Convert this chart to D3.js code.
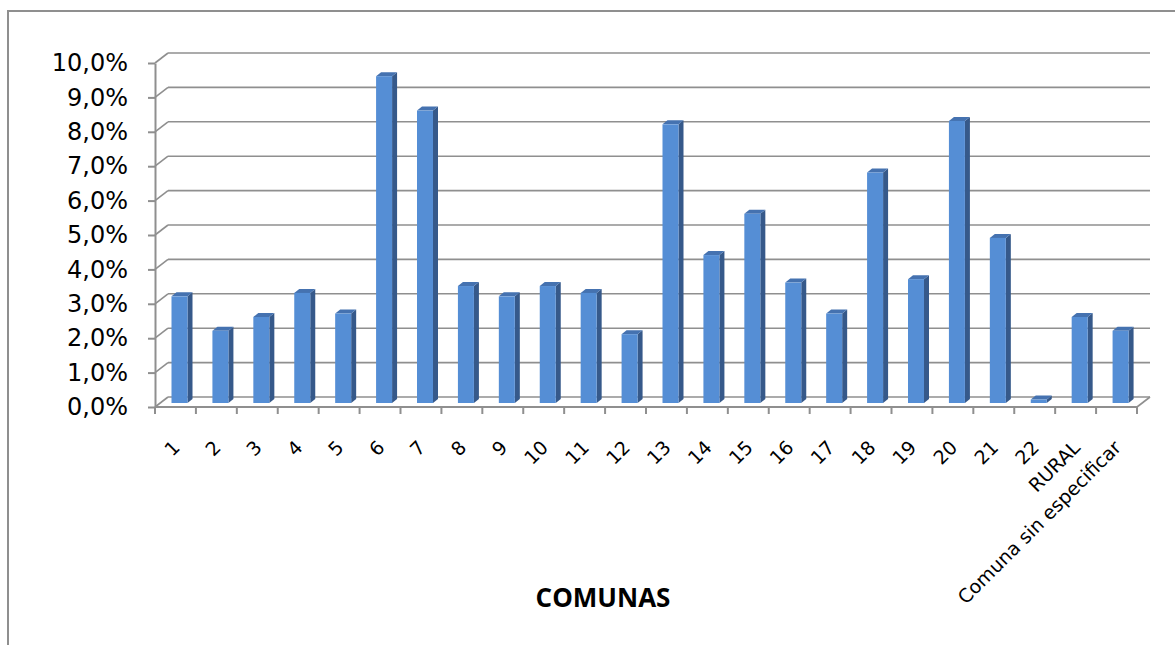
<!DOCTYPE html>
<html>
<head>
<meta charset="utf-8">
<script src="https://cdn.jsdelivr.net/npm/d3@7"></script>
<style>
  body { margin: 0; background: #fff; }
  svg { display: block; }
  .lbl { font-family: "DejaVu Sans", Verdana, sans-serif; }
</style>
</head>
<body>
<div id="chart"></div>
<script>
// ---- data ----
const categories = ["1","2","3","4","5","6","7","8","9","10","11","12","13","14","15","16","17","18","19","20","21","22","RURAL","Comuna sin especificar"]
const shares = [0.031,0.021,0.025,0.032,0.026,0.095,0.085,0.034,0.031,0.034,0.032,0.020,0.081,0.043,0.055,0.035,0.026,0.067,0.036,0.082,0.048,0.001,0.025,0.021]
const yTicks = [0,0.01,0.02,0.03,0.04,0.05,0.06,0.07,0.08,0.09,0.10]
const axisTitle = "COMUNAS"

const W = 1175, H = 645
// 3d depth of the walls
const depth = { dx: 13, dy: -10 }
const plot = { left: 155, right: 1137, top: 63, bottom: 407 }

const locale = d3.formatLocale({ decimal: ",", thousands: ".", grouping: [3], currency: ["", "€"], percent: "%" })
const pct = locale.format(".1%")

const svg = d3.select("#chart").append("svg")
    .attr("width", W)
    .attr("height", H)

// outer chart border
svg.append("rect")
    .attr("x", 8).attr("y", 11)
    .attr("width", 1300).attr("height", 800)
    .attr("fill", "#fff")
    .attr("stroke", "#8f8f8f")
    .attr("stroke-width", 2)

const x = d3.scaleBand().domain(categories).range([plot.left, plot.right])
const y = d3.scaleLinear().domain([0, 0.10]).range([plot.bottom, plot.top])

// back wall gridlines + left wall diagonals
const grid = svg.append("g").attr("stroke", "#8f8f8f").attr("stroke-width", 1.6).attr("fill", "none")
yTicks.forEach(t => {
    grid.append("line")
        .attr("x1", plot.left + depth.dx).attr("x2", plot.right + depth.dx)
        .attr("y1", y(t) + depth.dy).attr("y2", y(t) + depth.dy)
    grid.append("line")
        .attr("x1", plot.left).attr("x2", plot.left + depth.dx)
        .attr("y1", y(t)).attr("y2", y(t) + depth.dy)
})
// floor right edge
grid.append("line")
    .attr("x1", plot.right).attr("x2", plot.right + depth.dx)
    .attr("y1", y(0)).attr("y2", y(0) + depth.dy)

// bars (front, side, top)
const bar = { off: 16.5, w: 16, dx: 5, dy: -4, shift: -4 }
const bars = svg.append("g")
categories.forEach((c, i) => {
    const x0 = x(c) + bar.off, x1 = x0 + bar.w
    const yb = y(0) + bar.shift, yt = y(shares[i]) + bar.shift
    bars.append("path")
        .attr("d", `M${x1},${yb}L${x1 + bar.dx},${yb + bar.dy}L${x1 + bar.dx},${yt + bar.dy}L${x1},${yt}Z`)
        .attr("fill", "#36598a")
    bars.append("path")
        .attr("d", `M${x0},${yt}L${x0 + bar.dx},${yt + bar.dy}L${x1 + bar.dx},${yt + bar.dy}L${x1},${yt}Z`)
        .attr("fill", "#4572b0")
    bars.append("rect")
        .attr("x", x0).attr("y", yt)
        .attr("width", bar.w).attr("height", Math.max(0.5, yb - yt))
        .attr("fill", "#558ed5")
})

// y axis
const yAxis = svg.append("g")
    .attr("transform", `translate(${plot.left},0)`)
    .call(d3.axisLeft(y).tickValues(yTicks).tickFormat(pct).tickSize(7).tickSizeOuter(0).tickPadding(20))
yAxis.attr("font-family", null).attr("font-size", null)
yAxis.select(".domain").attr("stroke", "#8f8f8f").attr("stroke-width", 2)
yAxis.selectAll(".tick line").attr("stroke", "#8f8f8f").attr("stroke-width", 2)
yAxis.selectAll("text")
    .attr("class", "lbl")
    .style("font-size", "24px")
    .attr("fill", "#000")

// x axis: line + ticks at category boundaries
const xAxis = svg.append("g")
xAxis.append("line")
    .attr("x1", plot.left).attr("x2", plot.right)
    .attr("y1", y(0)).attr("y2", y(0))
    .attr("stroke", "#8f8f8f").attr("stroke-width", 2)
categories.concat([null]).forEach((c, i) => {
    const xp = c === null ? plot.right : x(c)
    xAxis.append("line")
        .attr("x1", xp).attr("x2", xp)
        .attr("y1", y(0)).attr("y2", y(0) + 7)
        .attr("stroke", "#8f8f8f").attr("stroke-width", 2)
})
const xLabels = svg.append("g")
    .attr("transform", `translate(0,${y(0)})`)
    .call(d3.axisBottom(x).tickSize(0))
xLabels.attr("font-family", null).attr("font-size", null)
xLabels.select(".domain").remove()
xLabels.selectAll("text")
    .attr("class", "lbl")
    .style("font-size", "19px")
    .attr("fill", "#000")
    .attr("y", 0)
    .attr("dy", "0.35em")
    .attr("text-anchor", "end")
    .attr("transform", "translate(1,37) rotate(-45)")

// axis title
svg.append("text")
    .attr("x", 603).attr("y", 607)
    .attr("text-anchor", "middle")
    .attr("font-family", "'Open Sans', sans-serif")
    .attr("font-weight", 700)
    .attr("font-size", 26)
    .attr("fill", "#000")
    .text(axisTitle)
</script>
</body>
</html>
